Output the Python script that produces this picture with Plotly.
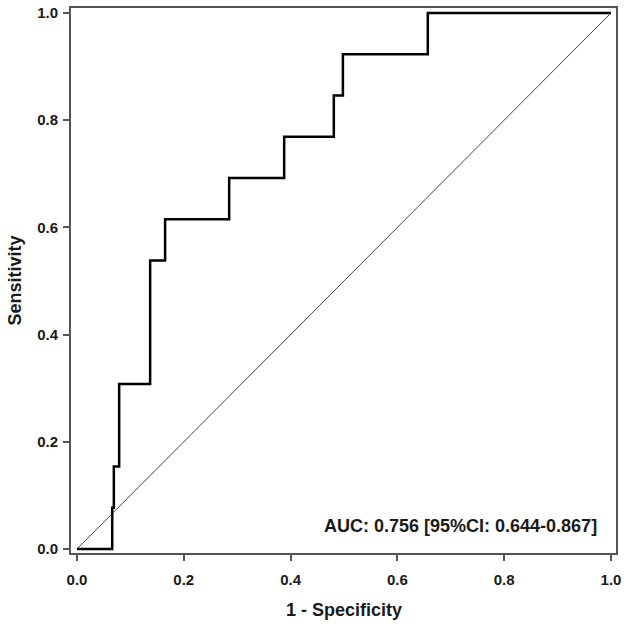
import plotly.graph_objects as go

# ROC curve step points (1 - specificity, sensitivity)
fpr = [0.0, 0.066, 0.066, 0.069, 0.069, 0.079, 0.079, 0.137, 0.137, 0.165, 0.165,
       0.285, 0.285, 0.388, 0.388, 0.481, 0.481, 0.498, 0.498, 0.657, 0.657, 1.0]
tpr = [0.0, 0.0, 0.077, 0.077, 0.154, 0.154, 0.308, 0.308, 0.538, 0.538, 0.615,
       0.615, 0.692, 0.692, 0.769, 0.769, 0.846, 0.846, 0.923, 0.923, 1.0, 1.0]
diag = [0.0, 1.0]
tick_vals = [0.0, 0.2, 0.4, 0.6, 0.8, 1.0]
tick_text = ["0.0", "0.2", "0.4", "0.6", "0.8", "1.0"]
auc_text = "AUC: 0.756 [95%CI: 0.644-0.867]"
x_title = "1 - Specificity"
y_title = "Sensitivity"

font_family = "Arial, Liberation Sans, sans-serif"
txt_color = "#1a1a1a"

fig = go.Figure()
fig.add_trace(go.Scatter(x=diag, y=diag, mode="lines",
                         line=dict(color="#444444", width=1), hoverinfo="skip"))
fig.add_trace(go.Scatter(x=fpr, y=tpr, mode="lines",
                         line=dict(color="black", width=2.5)))

axis_common = dict(
    tickvals=tick_vals, ticktext=tick_text, ticks="outside", ticklen=6, tickwidth=1.5,
    tickcolor="#555555", showgrid=False, zeroline=False, showline=True, linecolor="#555555",
    linewidth=2, mirror=True, automargin=False,
    tickfont=dict(family=font_family, size=15, color=txt_color, weight="bold"),
)

fig.update_layout(
    width=629, height=626,
    margin=dict(l=71, r=13, t=8, b=73),
    paper_bgcolor="white", plot_bgcolor="white",
    showlegend=False,
    xaxis=dict(range=[-0.0112, 1.0094], ticklabelstandoff=6, **axis_common),
    yaxis=dict(range=[-0.0075, 1.0093], ticklabelstandoff=2, **axis_common),
    annotations=[
        dict(x=0.9775, y=0.043, xref="x", yref="y", text=auc_text,
             showarrow=False, xanchor="right", yanchor="middle",
             font=dict(family=font_family, size=18, color=txt_color, weight="bold")),
        dict(x=0.5, y=-0.1046, xref="paper", yref="paper", text=x_title,
             showarrow=False, xanchor="center", yanchor="middle",
             font=dict(family=font_family, size=18, color=txt_color, weight="bold")),
        dict(x=-0.1028, y=0.5, xref="paper", yref="paper", text=y_title, textangle=-90,
             showarrow=False, xanchor="center", yanchor="middle",
             font=dict(family=font_family, size=18, color=txt_color, weight="bold")),
    ],
)

fig.write_html("out.html", config={"displayModeBar": False},
               post_script="document.body.style.margin='0';document.body.style.overflow='hidden';")
